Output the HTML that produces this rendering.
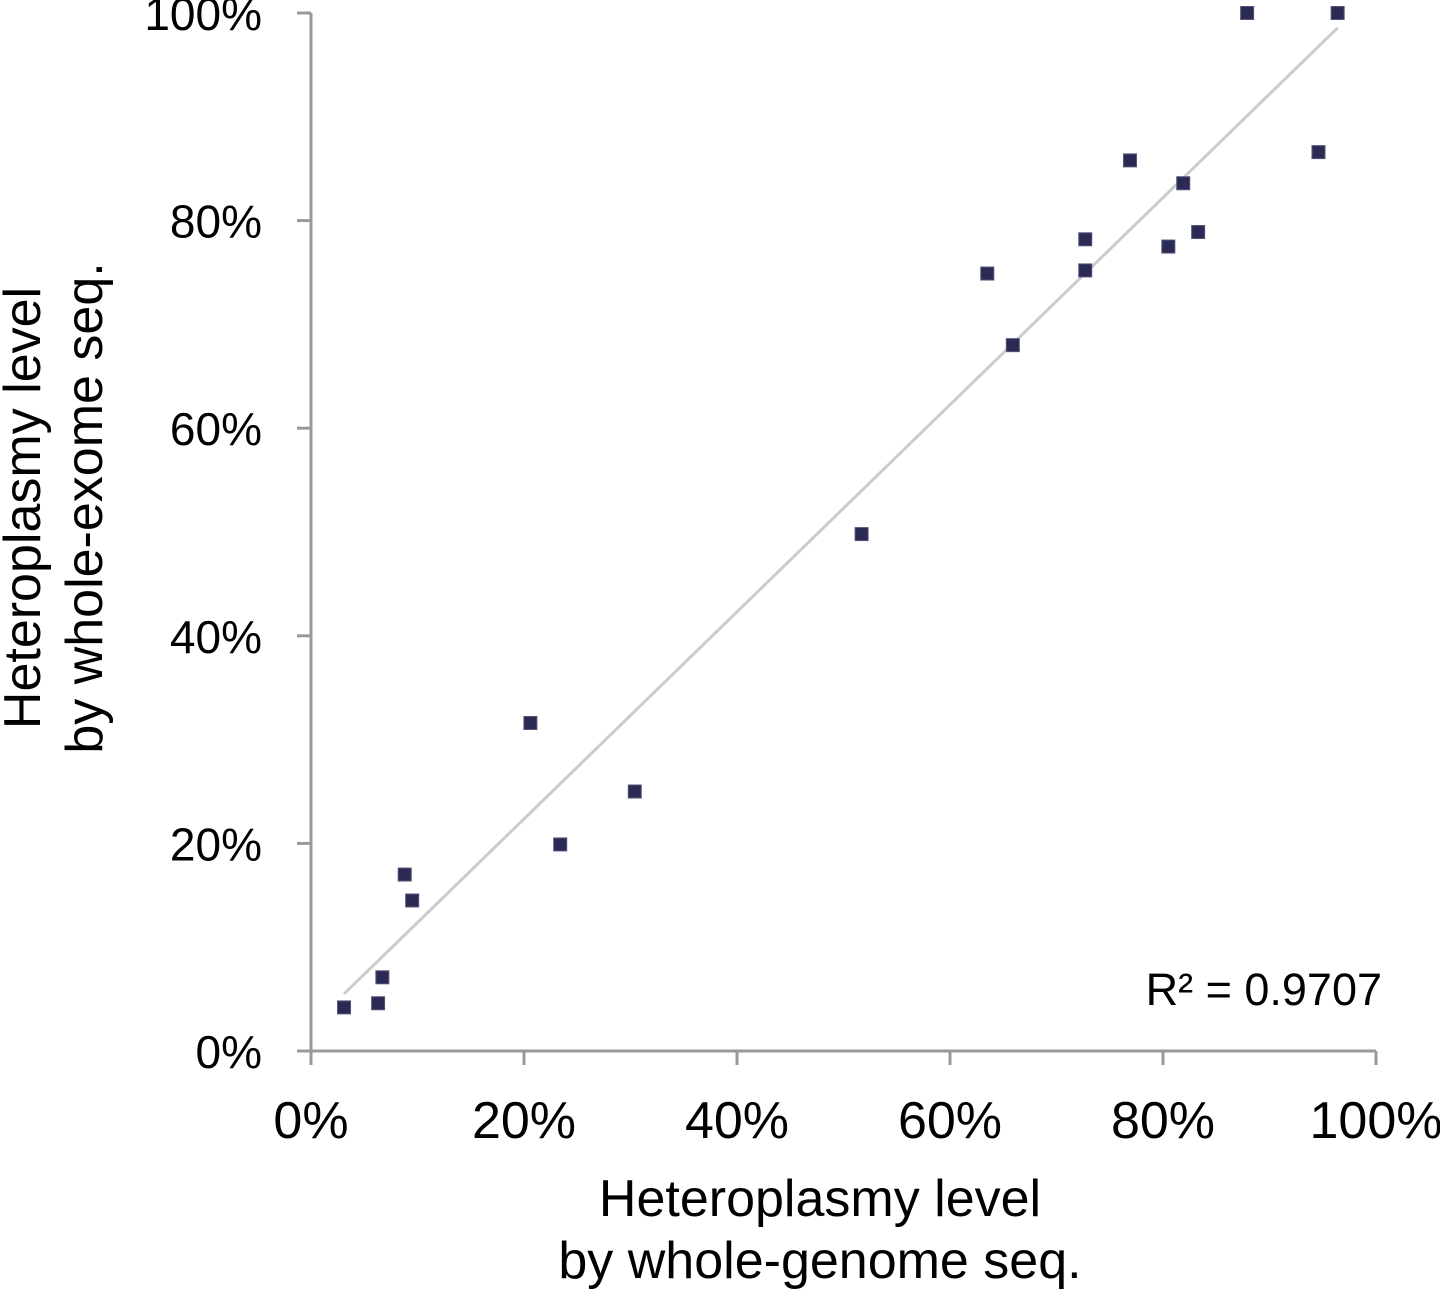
<!DOCTYPE html>
<html><head><meta charset="utf-8"><style>
body{margin:0;background:#fff;}
svg text{font-family:"Liberation Sans",sans-serif;fill:#000;}
</style></head><body>
<svg id="chart" width="1440" height="1289" viewBox="0 0 1440 1289" xmlns="http://www.w3.org/2000/svg"></svg>
<script>
const xValues=[3.1,6.3,6.7,8.8,9.5,20.6,23.4,30.4,51.7,63.5,65.9,72.7,72.7,76.9,80.5,81.9,83.3,87.9,94.6,96.4];
const yValues=[4.2,4.6,7.1,17.0,14.5,31.6,19.9,25.0,49.8,74.9,68.0,78.2,75.2,85.8,77.5,83.6,78.9,100,86.6,100];
const tickValues=[0,20,40,60,80,100];
const tickLabels=["0%","20%","40%","60%","80%","100%"];
const rSquaredLabel="R² = 0.9707";
const svg=document.getElementById('chart');
const NS="http://www.w3.org/2000/svg";
const X0=311,X1=1376,Y0=1051,Y1=13;
const sx=v=>X0+(X1-X0)*v/100, sy=v=>Y0-(Y0-Y1)*v/100;
function mk(tag,attrs,parent){const e=document.createElementNS(NS,tag);for(const k in attrs)e.setAttribute(k,attrs[k]);(parent||svg).appendChild(e);return e;}
let ya=mk('line',{x1:X0,y1:Y1,x2:X0,y2:Y0,stroke:'#999',"stroke-width":3});


let xa=mk('line',{x1:X0,y1:Y0,x2:X1,y2:Y0,stroke:'#999',"stroke-width":3});


tickValues.forEach((v,i)=>{
  let t=mk('line',{x1:X0-14,y1:sy(v),x2:X0,y2:sy(v),stroke:'#999',"stroke-width":3});
  
  
  let l=mk('text',{x:262,y:sy(v)+17,"text-anchor":"end","font-size":46});l.textContent=tickLabels[i];
  
  
  let t2=mk('line',{x1:sx(v),y1:Y0,x2:sx(v),y2:Y0+14,stroke:'#999',"stroke-width":3});
  
  
  let l2=mk('text',{x:sx(v),y:1138,"text-anchor":"middle","font-size":52});l2.textContent=tickLabels[i];
  
  
});
const n=xValues.length;let mx=0,my=0;xValues.forEach((x,i)=>{mx+=x;my+=yValues[i];});mx/=n;my/=n;
let sxy=0,sxx=0;xValues.forEach((x,i)=>{sxy+=(x-mx)*(yValues[i]-my);sxx+=(x-mx)*(x-mx);});
const b=sxy/sxx,a=my-b*mx;const xmin=Math.min(...xValues),xmax=Math.max(...xValues);
let tl=mk('line',{x1:sx(xmin),y1:sy(a+b*xmin),x2:sx(xmax),y2:sy(a+b*xmax),stroke:'#ccc',"stroke-width":3});


xValues.forEach((x,i)=>{
  let r=mk('rect',{x:sx(x)-6.5,y:sy(yValues[i])-6.5,width:13,height:13,fill:'#2b2a55',stroke:'#55557a',"stroke-width":1});
  
  
});
let rs=mk('text',{x:1382,y:1005,"text-anchor":"end","font-size":45});rs.textContent=rSquaredLabel;


let xt1=mk('text',{x:820,y:1216,"text-anchor":"middle","font-size":52});xt1.textContent="Heteroplasmy level";


let xt2=mk('text',{x:820,y:1278,"text-anchor":"middle","font-size":52});xt2.textContent="by whole-genome seq.";


let g=mk('g',{});
let yt1=mk('text',{x:0,y:0,"text-anchor":"middle","font-size":52,transform:'translate(40,508) rotate(-90)'},g);yt1.textContent="Heteroplasmy level";


let yt2=mk('text',{x:0,y:0,"text-anchor":"middle","font-size":52,transform:'translate(102,508) rotate(-90)'},g);yt2.textContent="by whole-exome seq.";


</script>
</body></html>
